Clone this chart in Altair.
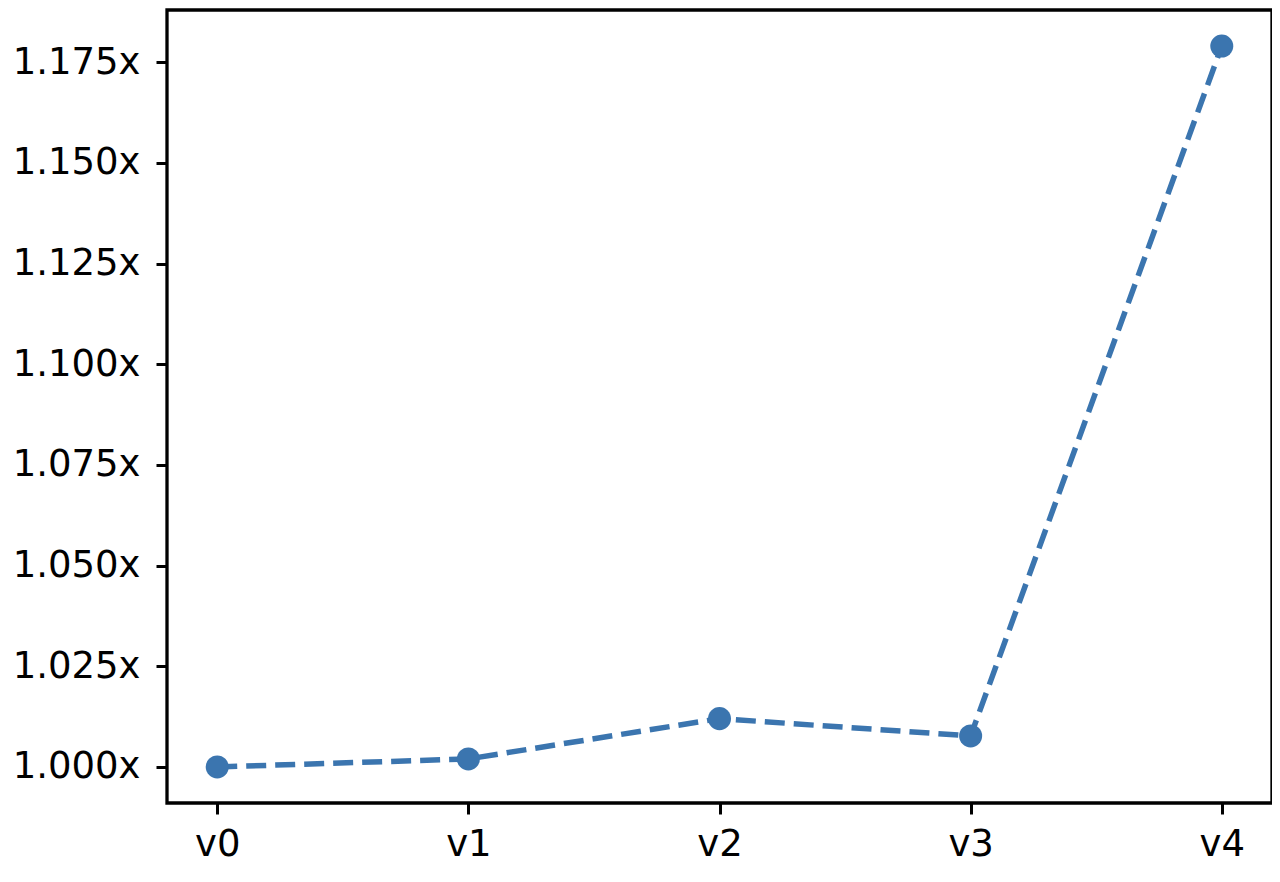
import altair as alt
import pandas as pd

versions = ["v0", "v1", "v2", "v3", "v4"]
speedup = [1.000, 1.002, 1.012, 1.0077, 1.179]
y_ticks = [1.000, 1.025, 1.050, 1.075, 1.100, 1.125, 1.150, 1.175]

df = pd.DataFrame({"version": versions, "speedup": speedup})

COLOR = "#3b75af"
FONT = "DejaVu Sans"

x = alt.X("version:N", sort=versions,
          scale=alt.Scale(type="point", padding=0.2),
          axis=alt.Axis(title=None, labelAngle=0, labelFont=FONT, labelFontSize=37,
                        labelColor="black", tickColor="black", tickSize=11, tickWidth=3,
                        labelPadding=12, domain=False, grid=False))
y = alt.Y("speedup:Q",
          scale=alt.Scale(domain=[0.99105, 1.18795], nice=False, zero=False),
          axis=alt.Axis(title=None, values=y_ticks,
                        labelExpr="format(datum.value, '.3f') + 'x'",
                        labelFont=FONT, labelFontSize=37, labelColor="black",
                        tickColor="black", tickSize=11, tickWidth=3,
                        labelPadding=16, domain=False, grid=False))

base = alt.Chart(df).encode(x=x, y=y)
line = base.mark_line(color=COLOR, strokeWidth=5.5, strokeDash=[20, 9])
points = base.mark_point(color=COLOR, filled=True, opacity=1, size=530, shape="circle")

chart = alt.layer(line, points).properties(
    width=1105, height=793,
    autosize=alt.AutoSizeParams(type="none"),
    padding={"left": 159, "top": 2, "right": 0, "bottom": 72},
).configure(background="white").configure_view(stroke="black", strokeWidth=3.3, fill="white")

chart.save("out.html", embed_options={"renderer": "svg", "actions": False})
